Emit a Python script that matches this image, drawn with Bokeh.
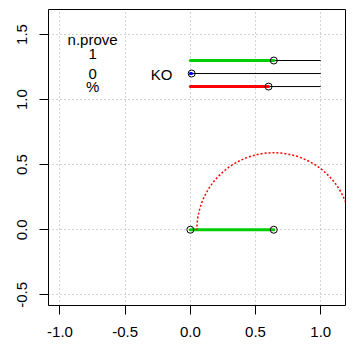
import math
from bokeh.plotting import figure
from bokeh.models import Range1d, FixedTicker, NumeralTickFormatter, ColumnDataSource
from bokeh.core.properties import value
from bokeh.embed import file_html
from bokeh.resources import INLINE

# ---- data ----
x_ticks = [-1.0, -0.5, 0.0, 0.5, 1.0]
y_ticks = [-0.5, 0.0, 0.5, 1.0, 1.5]

bar_y = [1.3, 1.2, 1.1]
bar_values = [0.64, 0.01, 0.6]
bar_colors = ["#00cd00", "#0000ff", "#ff0000"]
bar_max = [1.0, 1.0, 1.0]

bottom_value = 0.64
arc_center = 0.64
arc_radius = 0.59

header_labels = ["n.prove", "1", "0", "%"]
header_y = [1.46, 1.35, 1.2, 1.1]
header_x = -0.75
ko_label = "KO"
ko_pos = (-0.22, 1.19)

FONT = "Liberation Sans"

p = figure(width=355, height=354, output_backend="svg", toolbar_location=None,
           x_range=Range1d(-1.088, 1.19), y_range=Range1d(-0.582, 1.692),
           min_border_left=48, min_border_right=10, min_border_top=9, min_border_bottom=49)
p.background_fill_color = "white"
p.border_fill_color = "white"
p.outline_line_color = "black"
p.outline_line_width = 1

for ax, ticks in ((p.xaxis[0], x_ticks), (p.yaxis[0], y_ticks)):
    ax.ticker = FixedTicker(ticks=ticks)
    ax.formatter = NumeralTickFormatter(format="0.0")
    ax.axis_line_color = None
    ax.major_tick_out = 9
    ax.major_tick_in = 0
    ax.minor_tick_line_color = None
    ax.major_tick_line_color = "black"
    ax.major_label_text_font = FONT
    ax.major_label_text_font_size = "15px"
    ax.major_label_text_color = "black"
    ax.major_label_standoff = 12
p.yaxis[0].major_label_orientation = "vertical"

for g, ticks in ((p.xgrid[0], x_ticks), (p.ygrid[0], y_ticks)):
    g.ticker = FixedTicker(ticks=ticks)
    g.grid_line_color = "#a8a8a8"
    g.grid_line_dash = "1 3"
    g.grid_line_width = 1

# thin black reference lines
src = ColumnDataSource(dict(y=bar_y, v=bar_values, c=bar_colors, m=bar_max,
                            z=[0.0] * len(bar_y)))
p.segment(x0="z", y0="y", x1="m", y1="y", source=src, line_color="black", line_width=1)
# thick colored bars
p.segment(x0="z", y0="y", x1="v", y1="y", source=src, line_color="c", line_width=3,
          line_cap="round")
p.scatter(x="v", y="y", source=src, size=7, marker="circle", fill_color=None,
          line_color="black", line_width=1)

# bottom bar
p.segment(x0=[0.0], y0=[0.0], x1=[bottom_value], y1=[0.0], line_color="#00cd00", line_width=3,
          line_cap="round")
p.scatter(x=[0.0, bottom_value], y=[0.0, 0.0], size=7, marker="circle", fill_color=None,
          line_color="black", line_width=1)

# dotted arc
p.arc(x=[arc_center], y=[0.0], radius=arc_radius, start_angle=0, end_angle=math.pi,
      line_color="red", line_width=1.5, line_dash=value("2 2.5"))

# texts
p.text(x=[header_x] * len(header_labels), y=header_y, text=header_labels,
       text_font=value(FONT), text_font_size="15px", text_align="center",
       text_baseline="middle", text_color="black")
p.text(x=[ko_pos[0]], y=[ko_pos[1]], text=[ko_label], text_font=value(FONT),
       text_font_size="15px", text_align="center", text_baseline="middle", text_color="black")

open("out.html", "w").write(file_html(p, INLINE))
